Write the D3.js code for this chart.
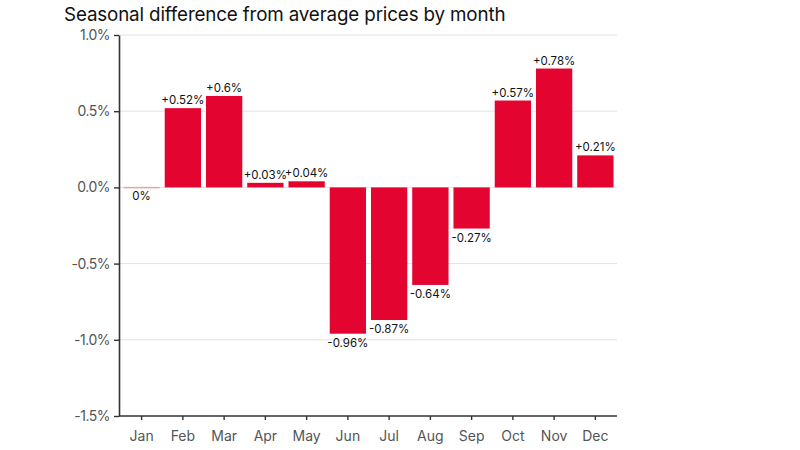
<!DOCTYPE html>
<html><head><meta charset="utf-8">
<script src="https://cdn.jsdelivr.net/npm/d3@7"></script>
<style>body{margin:0;background:#fff}svg{display:block}</style>
</head><body><svg id="c" width="800" height="450"></svg>
<script>
const months = ["Jan","Feb","Mar","Apr","May","Jun","Jul","Aug","Sep","Oct","Nov","Dec"];
const values = [0, 0.52, 0.6, 0.03, 0.04, -0.96, -0.87, -0.64, -0.27, 0.57, 0.78, 0.21];
const labels = ["0%","+0.52%","+0.6%","+0.03%","+0.04%","-0.96%","-0.87%","-0.64%","-0.27%","+0.57%","+0.78%","+0.21%"];
const yTicks = [1.0, 0.5, 0.0, -0.5, -1.0, -1.5];
const yTickLabels = ["1.0%","0.5%","0.0%","-0.5%","-1.0%","-1.5%"];

(function () {
const svg = d3.select("#c");
const L = 119, R = 617, T = 35, B = 416;
const x = d3.scaleBand().domain(months).range([L + 2, R - 1]).paddingInner(0.12).paddingOuter(0.06);
const y = d3.scaleLinear().domain([-1.5, 1.0]).range([B, T]);
const font = "Inter, 'Noto Sans', sans-serif";

svg.append("text").attr("x", 64).attr("y", 21).attr("font-family", font).attr("font-size", 18.8)
  .attr("fill", "#111").attr("letter-spacing", -0.15).text("Seasonal difference from average prices by month");

// gridlines
svg.append("g").selectAll("line").data(yTicks.filter(d => d > -1.5)).join("line")
  .attr("x1", L).attr("x2", R).attr("y1", d => y(d)).attr("y2", d => y(d))
  .attr("stroke", "#e2e2e2").attr("stroke-width", 1);

// bars
svg.append("g").selectAll("rect").data(values).join("rect")
  .attr("x", (d, i) => x(months[i]))
  .attr("width", x.bandwidth())
  .attr("y", d => d === 0 ? y(0) - 0.5 : y(Math.max(0, d)))
  .attr("height", d => d === 0 ? 1.5 : Math.abs(y(d) - y(0)))
  .attr("fill", d => d === 0 ? "#e9a3ab" : "#e3052f");

// value labels
svg.append("g").selectAll("text").data(values).join("text")
  .attr("x", (d, i) => x(months[i]) + x.bandwidth() / 2)
  .attr("y", d => d > 0 ? y(d) - 4 : y(d) + 13)
  .attr("text-anchor", "middle").attr("font-family", font).attr("font-size", 11.5)
  .attr("fill", "#111").text((d, i) => labels[i]);

// y axis
const ya = svg.append("g").attr("transform", `translate(${L},0)`)
  .call(d3.axisLeft(y).tickValues(yTicks).tickFormat((d, i) => yTickLabels[i]).tickSize(5).tickSizeOuter(0));
ya.select(".domain").attr("stroke", "#333").attr("stroke-width", 1.6);
ya.selectAll(".tick line").attr("stroke", "#333").attr("stroke-width", 1.4);
ya.selectAll("text").attr("font-family", font).attr("font-size", 14).attr("fill", "#555").attr("letter-spacing", -0.5).attr("dx", -1);

// x axis
const xa = svg.append("g").attr("transform", `translate(0,${B})`)
  .call(d3.axisBottom(x).tickSize(4).tickSizeOuter(0));
xa.select(".domain").attr("d", `M${L},0H${R}`).attr("stroke", "#333").attr("stroke-width", 1.6);
xa.selectAll(".tick line").attr("stroke", "#333").attr("stroke-width", 1.4);
xa.selectAll("text").attr("font-family", font).attr("font-size", 14).attr("fill", "#555").attr("dy", "1.25em");
})();
</script></body></html>
